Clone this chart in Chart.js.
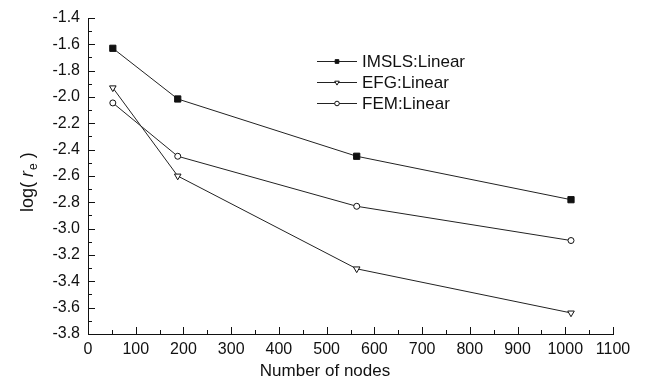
<!DOCTYPE html>
<html>
<head>
<meta charset="utf-8">
<script src="https://cdn.jsdelivr.net/npm/chart.js@4.4.0/dist/chart.umd.min.js"></script>
<style>
    body { margin: 0; background: #fff; }
    #wrap { position: relative; width: 646px; height: 388px; }
</style>
</head>
<body>
<div id="wrap"><canvas id="errChart"></canvas></div>
<script>
// data
const nodes = [52, 188, 563, 1012];
const imslsErr = [-1.63, -2.015, -2.45, -2.78];
const efgErr = [-1.93, -2.60, -3.305, -3.64];
const femErr = [-2.045, -2.45, -2.83, -3.09];
const seriesNames = ['IMSLS:Linear', 'EFG:Linear', 'FEM:Linear'];
const xTicks = [0, 100, 200, 300, 400, 500, 600, 700, 800, 900, 1000, 1100];
const yTicks = [-3.8, -3.6, -3.4, -3.2, -3.0, -2.8, -2.6, -2.4, -2.2, -2.0, -1.8, -1.6, -1.4];

const FONT = '"Liberation Sans", Arial, sans-serif';

function toPoints(ys) {
    return nodes.map((x, i) => ({ x: x, y: ys[i] }));
}

const markerStyles = [
    { pointStyle: 'rect', radius: 4.4, rotation: 0, fill: '#111' },
    { pointStyle: 'triangle', radius: 3.8, rotation: 180, fill: '#fff' },
    { pointStyle: 'circle', radius: 3, rotation: 0, fill: '#fff' }
];

function makeDataset(i, ys) {
    const m = markerStyles[i];
    return {
        label: seriesNames[i],
        data: toPoints(ys),
        showLine: true,
        borderColor: '#222',
        borderWidth: 1,
        pointStyle: m.pointStyle,
        pointRadius: m.radius,
        pointRotation: m.rotation,
        pointBackgroundColor: m.fill,
        pointBorderColor: '#111',
        pointBorderWidth: 1,
        tension: 0
    };
}

// inward pointing ticks with minor marks
const innerTicks = {
    id: 'innerTicks',
    afterDraw(chart) {
        const ctx = chart.ctx;
        const xs = chart.scales.x, ys = chart.scales.y;
        const area = chart.chartArea;
        ctx.save();
        ctx.strokeStyle = '#111';
        ctx.lineWidth = 1;
        ctx.beginPath();
        for (let v = xs.min; v <= xs.max + 1e-6; v += 50) {
            const px = Math.round(xs.getPixelForValue(v)) + 0.5;
            const len = (Math.round(v) % 100 === 0) ? 7 : 4;
            ctx.moveTo(px, area.bottom);
            ctx.lineTo(px, area.bottom - len);
        }
        let k = 0;
        for (let v = ys.min; v <= ys.max + 1e-6; v += 0.1, k++) {
            const py = Math.round(ys.getPixelForValue(v)) + 0.5;
            const len = (k % 2 === 0) ? 7 : 4;
            ctx.moveTo(area.left, py);
            ctx.lineTo(area.left + len, py);
        }
        ctx.stroke();
        ctx.restore();
    }
};

// axis titles: log(r_e) with italic r and subscript e, and the x title
const axisTitles = {
    id: 'axisTitles',
    afterDraw(chart) {
        const ctx = chart.ctx;
        ctx.save();
        ctx.fillStyle = '#111';
        ctx.font = '17px ' + FONT;
        ctx.textAlign = 'center';
        ctx.textBaseline = 'middle';
        ctx.fillText('Number of nodes', 325, 371);

        ctx.translate(33, 212);
        ctx.rotate(-Math.PI / 2);
        ctx.textBaseline = 'alphabetic';
        ctx.textAlign = 'left';
        let x = 0;
        ctx.font = '18px ' + FONT;
        ctx.fillText('log(', x, 0);
        x += ctx.measureText('log(').width + 5;
        ctx.font = 'italic 18px ' + FONT;
        ctx.fillText('r', x, 0);
        x += ctx.measureText('r').width + 1;
        ctx.font = '12px ' + FONT;
        ctx.fillText('e', x, 4);
        x += ctx.measureText('e').width + 5;
        ctx.font = '18px ' + FONT;
        ctx.fillText(')', x, 0);
        ctx.restore();
    }
};

// legend: line with marker, then label
const lineLegend = {
    id: 'lineLegend',
    afterDraw(chart) {
        const ctx = chart.ctx;
        const rows = [61, 82, 103];
        const legendMarkers = [
            { style: 'rect', r: 2.6 },
            { style: 'triangle', r: 2.6 },
            { style: 'circle', r: 2.3 }
        ];
        ctx.save();
        chart.data.datasets.forEach((ds, i) => {
            const y = rows[i];
            ctx.strokeStyle = '#222';
            ctx.lineWidth = 1;
            ctx.beginPath();
            ctx.moveTo(317, y + 0.5);
            ctx.lineTo(357, y + 0.5);
            ctx.stroke();
            ctx.fillStyle = markerStyles[i].fill;
            ctx.strokeStyle = '#111';
            Chart.helpers.drawPoint(ctx, {
                pointStyle: legendMarkers[i].style,
                rotation: markerStyles[i].rotation,
                radius: legendMarkers[i].r,
                borderWidth: 1
            }, 337, y + 0.5);
            ctx.fillStyle = '#111';
            ctx.font = '17px ' + FONT;
            ctx.textBaseline = 'middle';
            ctx.textAlign = 'left';
            ctx.fillText(ds.label, 362, y + 1);
        });
        ctx.restore();
    }
};

const ctx = document.getElementById('errChart').getContext('2d');
new Chart(ctx, {
    type: 'scatter',
    data: {
        datasets: [
            makeDataset(0, imslsErr),
            makeDataset(1, efgErr),
            makeDataset(2, femErr)
        ]
    },
    options: {
        responsive: true,
        maintainAspectRatio: false,
        animation: false,
        layout: { padding: { top: 18, right: 33, left: 0, bottom: 0 } },
        plugins: {
            legend: { display: false },
            tooltip: { enabled: false }
        },
        scales: {
            x: {
                type: 'linear',
                min: xTicks[0],
                max: xTicks[xTicks.length - 1],
                afterFit: s => { s.height = 54; },
                afterBuildTicks: s => { s.ticks = xTicks.map(v => ({ value: v })); },
                grid: { display: false, drawTicks: false },
                border: { display: true, color: '#111', width: 1 },
                ticks: {
                    padding: 6,
                    color: '#111',
                    font: { family: FONT, size: 16 },
                    maxRotation: 0,
                    callback: v => String(v)
                }
            },
            y: {
                type: 'linear',
                min: yTicks[0],
                max: yTicks[yTicks.length - 1],
                afterFit: s => { s.width = 88; },
                afterBuildTicks: s => { s.ticks = yTicks.map(v => ({ value: v })); },
                grid: { display: false, drawTicks: false },
                border: { display: true, color: '#111', width: 1 },
                ticks: {
                    padding: 8,
                    color: '#111',
                    font: { family: FONT, size: 16 },
                    callback: v => Number(v).toFixed(1)
                }
            }
        }
    },
    plugins: [innerTicks, axisTitles, lineLegend]
});
</script>
</body>
</html>
